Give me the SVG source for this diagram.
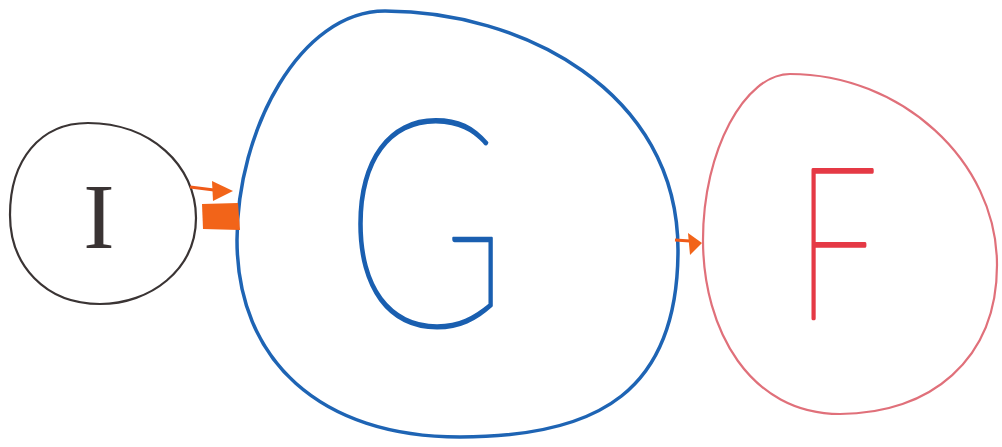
<svg xmlns="http://www.w3.org/2000/svg" width="1002" height="447" viewBox="0 0 1002 447">
<style>
.ring{fill:none;stroke-linecap:round;stroke-linejoin:round}
.lbl{font-family:Lato,"Liberation Sans",sans-serif;font-weight:200;text-anchor:middle;stroke-linejoin:round}
.conn{stroke:#f05a18;stroke-width:3;fill:none}
.head{fill:#f26419}
</style>
<rect width="1002" height="447" fill="#ffffff"/>
<g id="node-I">
<path class="ring" stroke="#3a3434" stroke-width="2.2" d="M88,123 C150,123 196,165 196,218 C196,270 150,304 100,304 C45,304 10,265 10,215 C10,160 40,123 88,123 Z"/>
<text transform="translate(99,248)" font-size="94" fill="#3a3434" text-anchor="middle" font-family="'Liberation Serif',serif">I</text>
</g>
<g id="node-G">
<path class="ring" stroke="#1e64b4" stroke-width="3.5" d="M385,11 C520,11 678,90 678,250 C678,390 600,437 460,437 C320,437 237,360 237,240 C237,130 300,11 385,11 Z"/>
<text class="lbl" transform="translate(426,326) scale(0.76,1)" font-size="292" fill="#1a5fb0" stroke="#1a5fb0" stroke-width="2.5">G</text>
</g>
<g id="node-F">
<path class="ring" stroke="#e0707a" stroke-width="2.2" d="M790,74 C900,74 997,160 997,265 C997,360 930,414 840,414 C750,414 703,330 703,240 C703,150 745,74 790,74 Z"/>
<text class="lbl" transform="translate(837,318) scale(0.69,1)" font-size="212" fill="#e53945" stroke="#e53945" stroke-width="3.5">F</text>
</g>
<g id="connectors">
<path class="conn" d="M190,187 L214,190"/>
<polygon class="head" points="212,181 233,191 213,201"/>
<polygon class="head" points="202,204 238,203 240,230 203,229"/>
<path class="conn" d="M675,240 L690,241"/>
<polygon class="head" points="688,233 702,243 690,255"/>
</g>
</svg>
